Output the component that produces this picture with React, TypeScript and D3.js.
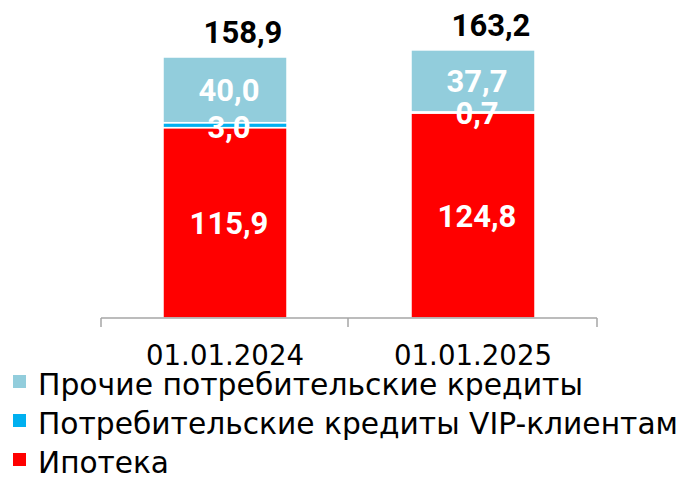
import React from "react";
import * as d3 from "d3";

const dates = ["01.01.2024", "01.01.2025"];
const mortgage = [115.9, 124.8];
const vip = [3.0, 0.7];
const other = [40.0, 37.7];
const totals = [158.9, 163.2];

const seriesNames = [
  "Ипотека",
  "Потребительские кредиты VIP-клиентам",
  "Прочие потребительские кредиты",
];
const seriesColors = ["#FF0000", "#00B0F0", "#92CDDC"];

const W = 684;
const H = 477;
const font = "'DejaVu Sans', sans-serif";
const numFont = "Roboto, sans-serif";
const fmt = (v: number) => v.toFixed(1).replace(".", ",");

export default function App() {
  const rows = dates.map((d, i) => ({
    date: d,
    s0: mortgage[i],
    s1: vip[i],
    s2: other[i],
  }));
  const stacked = d3.stack<any>().keys(["s0", "s1", "s2"])(rows);

  const x = d3.scaleBand().domain(dates).range([101, 597]).padding(0.5).paddingOuter(0.25);
  const y = d3.scaleLinear().domain([0, 158.9]).range([318, 57]);

  // legend rows, top to bottom
  const legend = [2, 1, 0];
  const legendY = [395, 434, 473];
  const legendW = [545, 640, 131];

  return (
    <svg width={W} height={H} style={{ position: "absolute", left: 0, top: 0 }}>
      <rect width={W} height={H} fill="#fff" />
      {stacked.map((layer, si) =>
        layer.map((d, i) => (
          <rect
            key={`${si}-${i}`}
            x={x(dates[i])}
            y={y(d[1])}
            width={x.bandwidth()}
            height={y(d[0]) - y(d[1])}
            fill={seriesColors[si]}
            stroke="#fff"
            strokeWidth={1.5}
          />
        ))
      )}
      {stacked.map((layer, si) =>
        layer.map((d, i) => (
          <text
            key={`l${si}-${i}`}
            x={x(dates[i])! + x.bandwidth() / 2 + 4}
            y={(y(d[0]) + y(d[1])) / 2 + (si === 1 && i === 0 ? 2 : 0)}
            dy="0.36em"
            textAnchor="middle"
            fill="#fff"
            fontFamily={numFont}
            fontWeight="bold"
            fontSize={31}
          >
            {fmt(d[1] - d[0])}
          </text>
        ))
      )}
      {totals.map((t, i) => (
        <text
          key={`t${i}`}
          x={x(dates[i])! + x.bandwidth() / 2 + 18}
          y={y(t) - 14}
          textAnchor="middle"
          fill="#000"
          fontFamily={numFont}
          fontWeight="bold"
          fontSize={31}
        >
          {fmt(t)}
        </text>
      ))}
      <g stroke="#A6A6A6" strokeWidth={1.5}>
        <line x1={101} x2={597} y1={318} y2={318} />
        {[101, 348, 597].map((tx) => (
          <line key={tx} x1={tx} x2={tx} y1={318} y2={327} />
        ))}
      </g>
      {dates.map((d) => (
        <text
          key={d}
          x={x(d)! + x.bandwidth() / 2}
          y={365}
          textAnchor="middle"
          fontFamily={font}
          fontSize={29}
          textLength={158}
          lengthAdjust="spacingAndGlyphs"
          fill="#000"
        >
          {d}
        </text>
      ))}
      {legend.map((si, r) => (
        <g key={si} transform={`translate(13, ${legendY[r]})`}>
          <rect x={0} y={-20} width={13} height={13} fill={seriesColors[si]} />
          <text
            x={25}
            y={0}
            fontFamily={font}
            fontSize={30}
            textLength={legendW[r]}
            lengthAdjust="spacingAndGlyphs"
            fill="#000"
          >
            {seriesNames[si]}
          </text>
        </g>
      ))}
    </svg>
  );
}
